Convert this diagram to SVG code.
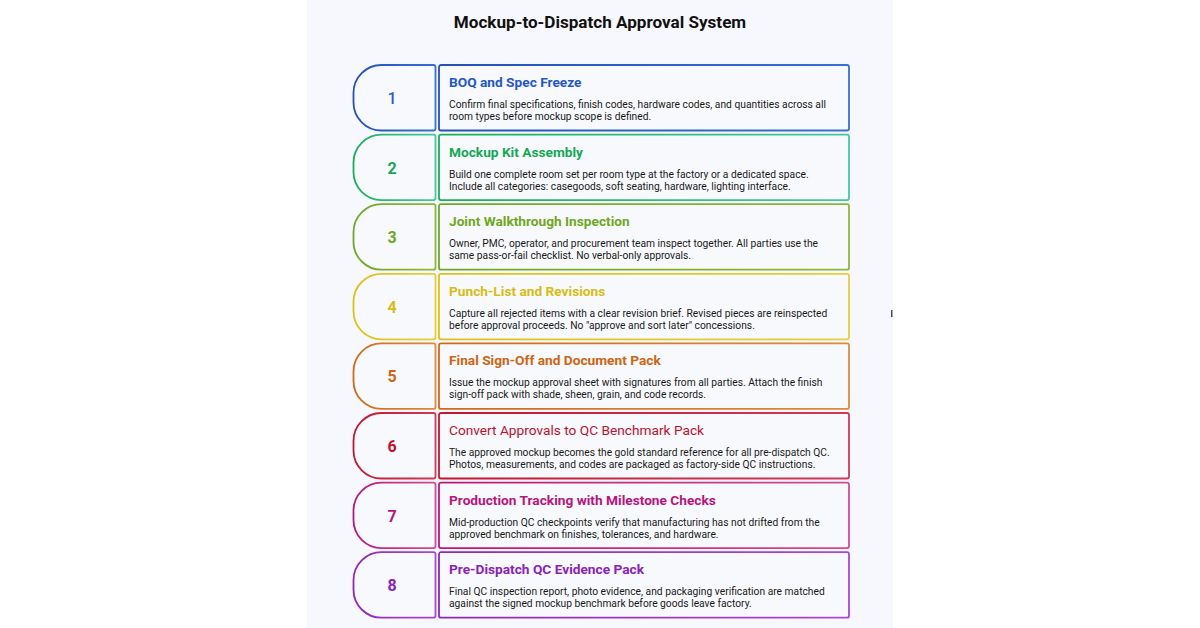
<svg xmlns="http://www.w3.org/2000/svg" width="1200" height="628" viewBox="0 0 1200 628">
<style>
.t{font-family:Roboto,"Liberation Sans",Arial,sans-serif}
.title{font-size:17.1px;font-weight:700;fill:#111}
.h{font-size:13.7px;font-weight:700}
.hn{font-weight:400}
.d{font-size:10.25px;fill:#1a1a1a}
.n{font-size:16px;font-weight:700}
.n1{font-weight:500}
.sh{fill:#f8f9fd;stroke-width:1.8}
</style>
<defs>
<path id="pill" d="M381.5,0 H433.5 Q435.5,0 435.5,2 V63.5 Q435.5,65.5 433.5,65.5 H381.5 A28,28 0 0 1 353.5,37.5 V28 A28,28 0 0 1 381.5,0 Z"/>
<linearGradient id="g1" x1="0" y1="0" x2="1" y2="0"><stop offset="0" stop-color="#2451b8"/><stop offset="1" stop-color="#3a6fd6"/></linearGradient>
<linearGradient id="g2" x1="0" y1="0" x2="1" y2="0"><stop offset="0" stop-color="#1aae5a"/><stop offset="1" stop-color="#45c8a0"/></linearGradient>
<linearGradient id="g3" x1="0" y1="0" x2="1" y2="0"><stop offset="0" stop-color="#6ea82a"/><stop offset="1" stop-color="#8cb83a"/></linearGradient>
<linearGradient id="g4" x1="0" y1="0" x2="1" y2="0"><stop offset="0" stop-color="#dcc218"/><stop offset="1" stop-color="#e8cc3a"/></linearGradient>
<linearGradient id="g5" x1="0" y1="0" x2="1" y2="0"><stop offset="0" stop-color="#cf6a1a"/><stop offset="1" stop-color="#e08a3a"/></linearGradient>
<linearGradient id="g6" x1="0" y1="0" x2="1" y2="0"><stop offset="0" stop-color="#c4162e"/><stop offset="1" stop-color="#d03a58"/></linearGradient>
<linearGradient id="g7" x1="0" y1="0" x2="1" y2="0"><stop offset="0" stop-color="#b8187e"/><stop offset="1" stop-color="#d04a98"/></linearGradient>
<linearGradient id="g8" x1="0" y1="0" x2="1" y2="0"><stop offset="0" stop-color="#8e28b8"/><stop offset="1" stop-color="#a848d8"/></linearGradient>
</defs>
<rect width="1200" height="628" fill="#ffffff"/>
<rect x="307" y="0" width="586" height="628" fill="#f7f8fd"/>
<rect x="891" y="310" width="1.5" height="7" fill="#3a4a8a"/>
<text class="t title" x="600" y="28" text-anchor="middle">Mockup-to-Dispatch Approval System</text>
<g id="connectors"></g>

<g id="step1" transform="translate(0,65)">
<use href="#pill" class="sh" stroke="url(#g1)"/>
<rect x="439" y="0" width="410" height="65.5" rx="2" class="sh" stroke="url(#g1)"/>
<text class="t n n1" x="392" y="39" text-anchor="middle" fill="#2a5bc4">1</text>
<text class="t h" x="449" y="22" fill="#2457c8">BOQ and Spec Freeze</text>
<text class="t d" x="449" y="43">Confirm final specifications, finish codes, hardware codes, and quantities across all</text>
<text class="t d" x="449" y="55">room types before mockup scope is defined.</text>
</g>

<g id="step2" transform="translate(0,134.6)">
<use href="#pill" class="sh" stroke="url(#g2)"/>
<rect x="439" y="0" width="410" height="65.5" rx="2" class="sh" stroke="url(#g2)"/>
<text class="t n" x="392" y="39" text-anchor="middle" fill="#14a856">2</text>
<text class="t h" x="449" y="22" fill="#14a856">Mockup Kit Assembly</text>
<text class="t d" x="449" y="43">Build one complete room set per room type at the factory or a dedicated space.</text>
<text class="t d" x="449" y="55">Include all categories: casegoods, soft seating, hardware, lighting interface.</text>
</g>

<g id="step3" transform="translate(0,204.2)">
<use href="#pill" class="sh" stroke="url(#g3)"/>
<rect x="439" y="0" width="410" height="65.5" rx="2" class="sh" stroke="url(#g3)"/>
<text class="t n" x="392" y="39" text-anchor="middle" fill="#6fa81e">3</text>
<text class="t h" x="449" y="22" fill="#6fa81e">Joint Walkthrough Inspection</text>
<text class="t d" x="449" y="43">Owner, PMC, operator, and procurement team inspect together. All parties use the</text>
<text class="t d" x="449" y="55">same pass-or-fail checklist. No verbal-only approvals.</text>
</g>

<g id="step4" transform="translate(0,273.8)">
<use href="#pill" class="sh" stroke="url(#g4)"/>
<rect x="439" y="0" width="410" height="65.5" rx="2" class="sh" stroke="url(#g4)"/>
<text class="t n" x="392" y="39" text-anchor="middle" fill="#d8bc14">4</text>
<text class="t h" x="449" y="22" fill="#d8bc14">Punch-List and Revisions</text>
<text class="t d" x="449" y="43">Capture all rejected items with a clear revision brief. Revised pieces are reinspected</text>
<text class="t d" x="449" y="55">before approval proceeds. No "approve and sort later" concessions.</text>
</g>

<g id="step5" transform="translate(0,343.4)">
<use href="#pill" class="sh" stroke="url(#g5)"/>
<rect x="439" y="0" width="410" height="65.5" rx="2" class="sh" stroke="url(#g5)"/>
<text class="t n" x="392" y="39" text-anchor="middle" fill="#cc6614">5</text>
<text class="t h" x="449" y="22" fill="#cc6614">Final Sign-Off and Document Pack</text>
<text class="t d" x="449" y="43">Issue the mockup approval sheet with signatures from all parties. Attach the finish</text>
<text class="t d" x="449" y="55">sign-off pack with shade, sheen, grain, and code records.</text>
</g>

<g id="step6" transform="translate(0,413)">
<use href="#pill" class="sh" stroke="url(#g6)"/>
<rect x="439" y="0" width="410" height="65.5" rx="2" class="sh" stroke="url(#g6)"/>
<text class="t n" x="392" y="39" text-anchor="middle" fill="#c0102c">6</text>
<text class="t h hn" x="449" y="22" fill="#c0102c">Convert Approvals to QC Benchmark Pack</text>
<text class="t d" x="449" y="43">The approved mockup becomes the gold standard reference for all pre-dispatch QC.</text>
<text class="t d" x="449" y="55">Photos, measurements, and codes are packaged as factory-side QC instructions.</text>
</g>

<g id="step7" transform="translate(0,482.6)">
<use href="#pill" class="sh" stroke="url(#g7)"/>
<rect x="439" y="0" width="410" height="65.5" rx="2" class="sh" stroke="url(#g7)"/>
<text class="t n" x="392" y="39" text-anchor="middle" fill="#b8147e">7</text>
<text class="t h" x="449" y="22" fill="#b8147e">Production Tracking with Milestone Checks</text>
<text class="t d" x="449" y="43">Mid-production QC checkpoints verify that manufacturing has not drifted from the</text>
<text class="t d" x="449" y="55">approved benchmark on finishes, tolerances, and hardware.</text>
</g>

<g id="step8" transform="translate(0,552.2)">
<use href="#pill" class="sh" stroke="url(#g8)"/>
<rect x="439" y="0" width="410" height="65.5" rx="2" class="sh" stroke="url(#g8)"/>
<text class="t n" x="392" y="39" text-anchor="middle" fill="#8a22b8">8</text>
<text class="t h" x="449" y="22" fill="#8a22b8">Pre-Dispatch QC Evidence Pack</text>
<text class="t d" x="449" y="43">Final QC inspection report, photo evidence, and packaging verification are matched</text>
<text class="t d" x="449" y="55">against the signed mockup benchmark before goods leave factory.</text>
</g>
</svg>
